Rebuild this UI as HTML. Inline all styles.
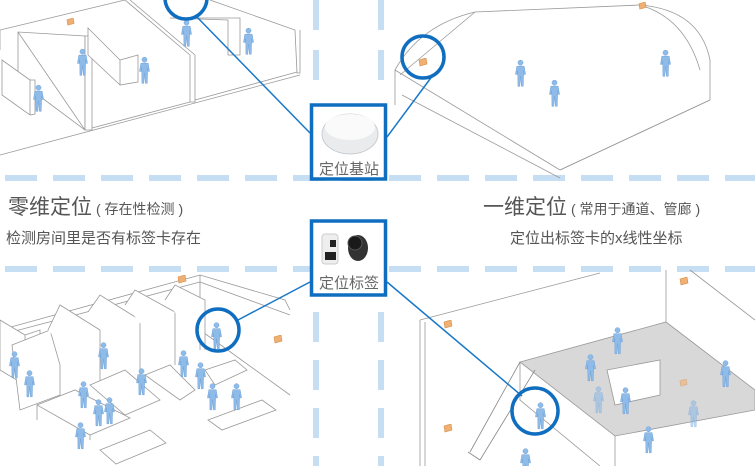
<!DOCTYPE html>
<html><head><meta charset="utf-8"><style>
html,body{margin:0;padding:0;background:#fff;}
svg{display:block}
text{font-family:"Liberation Sans","Noto Sans CJK SC",sans-serif;}
</style></head><body>
<svg width="755" height="466" viewBox="0 0 755 466" xmlns="http://www.w3.org/2000/svg">
<defs>
<symbol id="p" viewBox="0 0 12 30" overflow="visible">
<g fill="#8fbbe8" stroke="#6a9fd6" stroke-width="0.5">
<circle cx="6" cy="3.2" r="2.8"/>
<path d="M2 7 H10 L11.5 16 H10 L9.5 12 L9 29 H7 L6.2 18 L5.2 29 H3.2 L3 12 L2.5 16 H0.5 Z"/>
</g>
</symbol>
<symbol id="b" viewBox="0 0 10 10"><path d="M1 2 L8 0 L9 6 L2 8 Z" fill="#f0b074" stroke="#d48a45" stroke-width="0.6"/></symbol>
</defs>
<g stroke="#c6def3" stroke-width="6" fill="none">
<line x1="5" y1="178" x2="755" y2="178" stroke-dasharray="32 16"/>
<line x1="5" y1="269" x2="755" y2="269" stroke-dasharray="32 16"/>
<line x1="316" y1="0" x2="316" y2="100" stroke-dasharray="30 20"/>
<line x1="381" y1="0" x2="381" y2="100" stroke-dasharray="30 20"/>
<line x1="316" y1="312" x2="316" y2="466" stroke-dasharray="30 18"/>
<line x1="381" y1="312" x2="381" y2="466" stroke-dasharray="30 18"/>
</g>
<!-- TL scene -->
<g stroke="#999" stroke-width="0.8" fill="#fff">
<path d="M0 30 L125 0 M0 155 L300 75 M0 30 L0 50"/>
<path d="M18 32 L18 80 L85 130 L85 36 Z M18 32 L85 130"/>
<path d="M85 36 L92 36 L92 130 L85 130 Z"/>
<path d="M2 60 L30 80 L30 115 L2 95 Z M30 80 L35 80 L35 114 L30 115"/>
<path d="M88 28 L120 60 L120 85 L88 55 Z M120 60 L138 55 L138 82 L120 85"/>
<path d="M125 0 L190 55 L190 102 L195 102 L195 55 L130 0"/>
<path d="M170 18 L228 20 L228 55 L240 55 L240 18 Z"/>
<path d="M210 0 L295 30 L297 73 L300 73 L300 30"/>
<path d="M92 128 L190 102 M195 100 L297 72"/>
</g>
<use href="#b" x="66" y="18" width="9" height="9"/>
<use href="#p" x="33" y="82" width="11" height="33"/>
<use href="#p" x="77" y="46" width="11" height="33"/>
<use href="#p" x="139" y="54" width="11" height="33"/>
<use href="#p" x="181" y="17" width="11" height="33"/>
<use href="#p" x="243" y="25" width="11" height="33"/>
<!-- TR scene -->
<g stroke="#999" stroke-width="0.8" fill="none">
<path d="M395 70 Q420 25 475 12 L640 5 Q700 10 710 60 L710 100 L560 170"/>
<path d="M395 70 L560 170 M395 70 L395 105 M402 95 L560 178"/>
<path d="M640 5 Q685 18 700 70 M475 12 L400 75"/>
<path d="M560 170 L710 100"/>
</g>
<use href="#b" x="418" y="58" width="10" height="10"/>
<use href="#b" x="638" y="2" width="9" height="9"/>
<use href="#p" x="515" y="57" width="11" height="33"/>
<use href="#p" x="549" y="77" width="11" height="33"/>
<use href="#p" x="660" y="47" width="11" height="33"/>
<!-- BL scene -->
<g stroke="#999" stroke-width="0.8" fill="#fff">
<path d="M0 330 L200 275 L285 300 L290 310 M200 275 L200 350 M0 335 L200 282 M200 282 L290 315"/>
<path d="M200 330 L290 395"/>
<path d="M0 320 L25 335 L25 385 L0 370 Z M25 335 L40 330 L40 380 L25 385"/>
<path d="M12 345 L50 330 L60 365 L60 395 L20 410 Z"/>
<path d="M48 330 L60 305 L100 330 L100 390"/>
<path d="M88 312 L100 295 L140 320 L140 375"/>
<path d="M125 305 L135 290 L175 312 L175 365"/>
<path d="M165 300 L175 285 L205 300 L205 350"/>
<path d="M37 405 L75 390 L130 418 L90 435 Z M37 405 L37 420 M90 435 L90 440"/>
<path d="M90 385 L125 370 L160 400 L125 415 Z"/>
<path d="M145 375 L170 365 L195 390 L180 400 Z"/>
<path d="M208 420 L262 400 L276 410 L222 430 Z"/>
<path d="M100 450 L150 430 L166 443 L116 464 Z"/>
<path d="M205 370 L235 360 L247 370 L215 385 Z"/>
</g>
<use href="#b" x="177" y="275" width="10" height="10"/>
<use href="#b" x="273" y="335" width="10" height="10"/>
<use href="#p" x="9" y="349" width="11" height="32"/>
<use href="#p" x="24" y="368" width="11" height="32"/>
<use href="#p" x="78" y="379" width="11" height="32"/>
<use href="#p" x="93" y="397" width="11" height="32"/>
<use href="#p" x="104" y="395" width="11" height="32"/>
<use href="#p" x="75" y="420" width="11" height="32"/>
<use href="#p" x="98" y="340" width="11" height="32"/>
<use href="#p" x="136" y="366" width="11" height="32"/>
<use href="#p" x="178" y="348" width="11" height="32"/>
<use href="#p" x="195" y="360" width="11" height="32"/>
<use href="#p" x="207" y="381" width="11" height="32"/>
<use href="#p" x="231" y="381" width="11" height="32"/>
<use href="#p" x="211" y="320" width="11" height="32"/>
<!-- BR scene -->
<g stroke="#999" stroke-width="0.8" fill="none">
<path d="M420 320 L600 273 M420 320 L420 466 M425 322 L425 466 M666 270 L666 340 M690 270 L755 320"/>
<path d="M520 362 L666 322 L755 390 L755 410 L615 436 L520 362 Z" fill="#d8d8d8"/>
<path d="M615 436 L615 466 M520 362 L520 400 L600 466"/>
<path d="M520 362 L470 452 M535 370 L480 460 M468 452 L480 460" stroke="#888"/>
<path d="M607 370 L660 360 L660 395 L615 405 Z" fill="#fff"/>
</g>
<use href="#b" x="443" y="320" width="10" height="10"/>
<use href="#b" x="443" y="424" width="10" height="10"/>
<use href="#b" x="679" y="277" width="10" height="10"/>
<use href="#b" x="679" y="379" width="9" height="9" opacity=".6"/>
<use href="#p" x="612" y="325" width="11" height="32"/>
<use href="#p" x="585" y="352" width="11" height="32"/>
<use href="#p" x="620" y="385" width="11" height="32"/>
<use href="#p" x="593" y="384" width="11" height="32" opacity=".6"/>
<use href="#p" x="720" y="358" width="11" height="32"/>
<use href="#p" x="688" y="398" width="11" height="32" opacity=".6"/>
<use href="#p" x="643" y="424" width="11" height="32"/>
<use href="#p" x="535" y="400" width="11" height="32"/>
<use href="#p" x="520" y="448" width="11" height="28"/>
<!-- connectors -->
<g stroke="#1878c8" stroke-width="1.5" fill="none">
<line x1="195" y1="15" x2="310" y2="133"/>
<line x1="433" y1="75" x2="387" y2="137"/>
<line x1="238" y1="320" x2="310" y2="282"/>
<line x1="522" y1="396" x2="387" y2="282"/>
</g>
<g stroke="#0f6ec0" stroke-width="3.5" fill="none">
<circle cx="186" cy="-2" r="21"/>
<circle cx="423" cy="57" r="21"/>
<circle cx="218" cy="330" r="21"/>
<circle cx="535" cy="411" r="23"/>
</g>
<!-- boxes -->
<rect x="311.5" y="105" width="74" height="74" fill="#fff" stroke="#0f6ec0" stroke-width="3.5"/>
<ellipse cx="350" cy="134" rx="28" ry="20" fill="#e9ebed" stroke="#c8ccd0"/>
<ellipse cx="350" cy="127" rx="25" ry="13" fill="#fafafa"/>
<text x="349" y="174" font-size="15" fill="#666" text-anchor="middle">定位基站</text>
<rect x="311.5" y="221" width="74" height="74" fill="#fff" stroke="#0f6ec0" stroke-width="3.5"/>
<rect x="322" y="234" width="16" height="30" rx="3" fill="#eee" stroke="#ccc"/>
<rect x="330" y="240" width="6" height="7" fill="#222"/>
<rect x="325" y="252" width="11" height="8" fill="#222"/>
<ellipse cx="358" cy="248" rx="10" ry="13" fill="#333"/>
<circle cx="355" cy="243" r="7" fill="#1a1a1a" stroke="#555"/>
<text x="349" y="288" font-size="15" fill="#666" text-anchor="middle">定位标签</text>
<!-- texts -->
<text x="8" y="214" font-size="21" fill="#555">零维定位<tspan font-size="14" dx="4">( 存在性检测 )</tspan></text>
<text x="6" y="243" font-size="15" fill="#555">检测房间里是否有标签卡存在</text>
<text x="483" y="214" font-size="21" fill="#555">一维定位<tspan font-size="14" dx="4">( 常用于通道、管廊 )</tspan></text>
<text x="510" y="243" font-size="15" fill="#555">定位出标签卡的x线性坐标</text>
</svg>
</body></html>
